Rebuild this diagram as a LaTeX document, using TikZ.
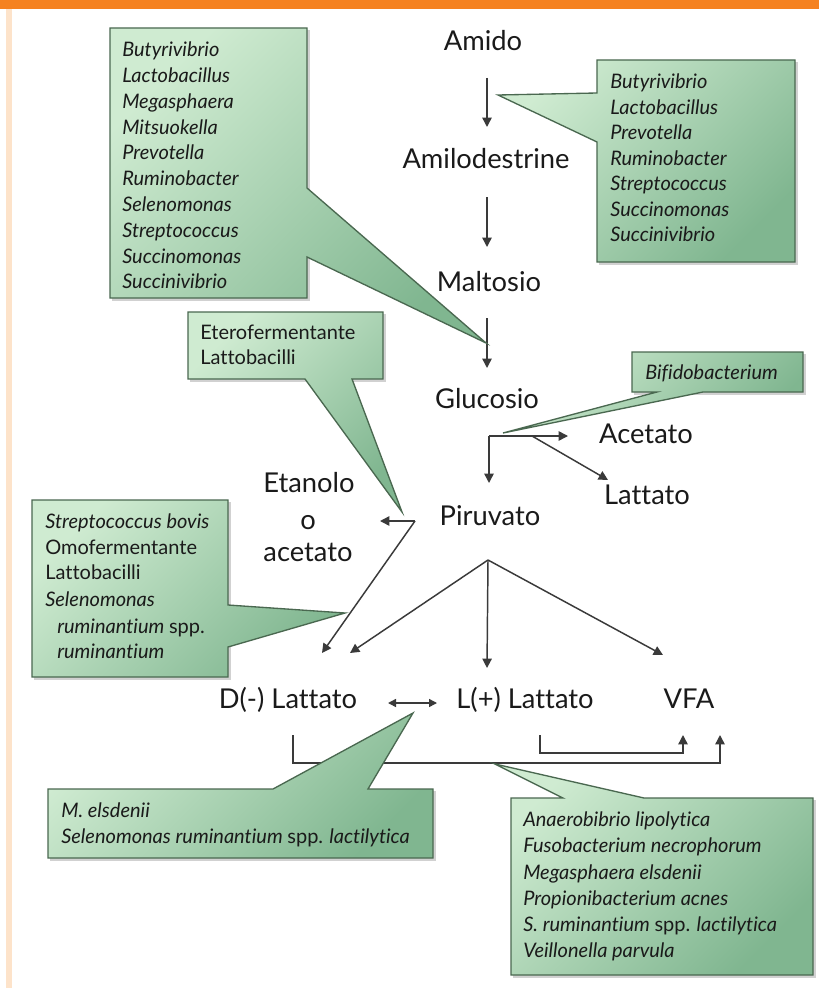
\documentclass[tikz,border=0pt]{standalone}
\usepackage{fontspec}
\setmainfont{Lato}[Ligatures={NoCommon}]
\usetikzlibrary{arrows.meta}
\definecolor{orangebar}{HTML}{F58220}
\definecolor{peach}{HTML}{FDE3CA}
\definecolor{boxlight}{HTML}{CFEBD1}
\definecolor{boxdark}{HTML}{80B690}
\definecolor{boxedge}{HTML}{4A6850}
\definecolor{ink}{HTML}{1A1A1A}
\definecolor{linegray}{HTML}{3A3A3A}
\begin{document}
\begin{tikzpicture}[x=0.75pt,y=-0.75pt,
  lbl/.style={font=\fontsize{20.5}{24}\selectfont, text=ink, inner sep=0pt, anchor=mid, yshift=-4pt},
  btxt/.style={font=\fontsize{15}{19}\selectfont\itshape, text=ink, inner sep=0pt, anchor=mid west, yshift=-2.5pt},
  up/.style={font=\fontsize{15}{19}\selectfont\upshape},
  call/.style={draw=boxedge, line width=1pt, top color=boxlight, bottom color=boxdark, shading angle=45},
  shade/.style={fill=black, opacity=0.18},
  flow/.style={draw=linegray, line width=1.1pt, -{Triangle[length=7pt,width=7pt]}},
  dflow/.style={draw=linegray, line width=1.1pt, {Triangle[length=6pt,width=6pt]}-{Triangle[length=6pt,width=6pt]}},
  plain/.style={draw=linegray, line width=1.1pt}]
\useasboundingbox (0,0) rectangle (819,988);
\fill[white] (0,0) rectangle (819,988);
\fill[orangebar] (0,0) rectangle (819,9);
\fill[peach] (6,9) rectangle (12,988);

% main labels
\node[lbl] (amido) at (483,42) {Amido};
\node[lbl] (amilo) at (486,160) {Amilodestrine};
\node[lbl] (malto) at (489,283) {Maltosio};
\node[lbl] (gluco) at (487,400) {Glucosio};
\node[lbl] (acet) at (646,435) {Acetato};
\node[lbl] (latt) at (647,496) {Lattato};
\node[lbl] (etan) at (309,484) {Etanolo};
\node[lbl] (oo) at (308,521) {o};
\node[lbl] (acet2) at (308,553) {acetato};
\node[lbl] (piru) at (490,517) {Piruvato};
\node[lbl] (dlat) at (288,700) {D(-) Lattato};
\node[lbl] (llat) at (525,700) {L(+) Lattato};
\node[lbl] (vfa) at (689,700) {VFA};

% connector end points
\coordinate (a1s) at (487,78);  \coordinate (a1e) at (487,127);
\coordinate (a2s) at (487,197); \coordinate (a2e) at (487,247);
\coordinate (a3s) at (487,318); \coordinate (a3e) at (487,368);
\coordinate (g0) at (489,436);  \coordinate (g1) at (489,483);
\coordinate (gh) at (568,436);  \coordinate (gd0) at (532,436);
\coordinate (gd1) at (608,480);
\coordinate (p0) at (415,521);  \coordinate (pe) at (380,521);
\coordinate (pd1) at (322,653);
\coordinate (apex) at (488,560);
\coordinate (t1) at (350,653); \coordinate (t2) at (487,668); \coordinate (t3) at (663,655);
\coordinate (da) at (388,703); \coordinate (db) at (437,703);
\coordinate (b1) at (293,735); \coordinate (b2) at (293,763);
\coordinate (b3) at (720,763); \coordinate (b4) at (720,735);
\coordinate (c1) at (540,735); \coordinate (c2) at (540,753);
\coordinate (c3) at (683,753); \coordinate (c4) at (683,735);

% connectors
\draw[flow] (a1s) -- (a1e);
\draw[flow] (a2s) -- (a2e);
\draw[flow] (a3s) -- (a3e);
\draw[flow] (g0) -- (g1);
\draw[flow] (g0) -- (gh);
\draw[flow] (gd0) -- (gd1);
\draw[flow] (p0) -- (pe);
\draw[flow] (p0) -- (pd1);
\draw[flow] (apex) -- (t1);
\draw[flow] (apex) -- (t2);
\draw[flow] (apex) -- (t3);
\draw[dflow] (da) -- (db);
\draw[flow] (b1) -- (b2) -- (b3) -- (b4);
\draw[flow] (c1) -- (c2) -- (c3) -- (c4);

% callout 1
\fill[shade] (112,30) rectangle (310,301);
\path[call] (110,28) -- (307,28) -- (307,188) -- (486,343) -- (307,257) -- (307,298) -- (110,298) -- cycle;
\foreach \t [count=\i from 0] in {Butyrivibrio,Lactobacillus,Megasphaera,Mitsuokella,Prevotella,Ruminobacter,Selenomonas,Streptococcus,Succinomonas,Succinivibrio}
  \node[btxt] (ca\i) at (122,50+25.8*\i) {\t};

% callout 2
\fill[shade] (599,62) rectangle (798,265);
\path[call] (597,60) -- (795,60) -- (795,262) -- (597,262) -- (597,142) -- (498,95) -- (597,93) -- cycle;
\foreach \t [count=\i from 0] in {Butyrivibrio,Lactobacillus,Prevotella,Ruminobacter,Streptococcus,Succinomonas,Succinivibrio}
  \node[btxt] (cb\i) at (610,82+25.5*\i) {\t};

% callout 3
\fill[shade] (190,314) rectangle (386,382);
\path[call] (188,312) -- (383,312) -- (383,379) -- (352,379) -- (402,512) -- (305,379) -- (188,379) -- cycle;
\node[btxt,up] (cc0) at (200,333) {Eterofermentante};
\node[btxt,up] (cc1) at (200,358) {Lattobacilli};

% callout 4
\fill[shade] (634,354) rectangle (806,395);
\path[call] (632,352) -- (803,352) -- (803,392) -- (703,392) -- (503,433) -- (657,392) -- (632,392) -- cycle;
\node[btxt] (cd0) at (645,373) {Bifidobacterium};

% callout 5
\fill[shade] (34,502) rectangle (231,680);
\path[call] (32,500) -- (228,500) -- (228,605) -- (345,613) -- (228,647) -- (228,677) -- (32,677) -- cycle;
\node[btxt] (ce0) at (45,522) {Streptococcus bovis};
\node[btxt,up] (ce1) at (45,548) {Omofermentante};
\node[btxt,up] (ce2) at (45,573) {Lattobacilli};
\node[btxt] (ce3) at (45,600) {Selenomonas};
\node[btxt] (ce4) at (57,627) {ruminantium \upshape spp.};
\node[btxt] (ce5) at (57,652) {ruminantium};

% callout 6
\fill[shade] (50,791) rectangle (436,861);
\path[call] (48,789) -- (273,789) -- (413,713) -- (368,789) -- (433,789) -- (433,858) -- (48,858) -- cycle;
\node[btxt] (cf0) at (61,811) {M. elsdenii};
\node[btxt] (cf1) at (61,837) {Selenomonas ruminantium {\upshape spp.} lactilytica};

% callout 7
\fill[shade] (513,800) rectangle (816,978);
\path[call] (511,798) -- (563,798) -- (495,764) -- (644,798) -- (813,798) -- (813,975) -- (511,975) -- cycle;
\foreach \t [count=\i from 0] in {Anaerobibrio lipolytica,Fusobacterium necrophorum,Megasphaera elsdenii,Propionibacterium acnes,S. ruminantium {\upshape spp.} lactilytica,Veillonella parvula}
  \node[btxt] (cg\i) at (523,820+26.2*\i) {\t};
\end{tikzpicture}
\end{document}
